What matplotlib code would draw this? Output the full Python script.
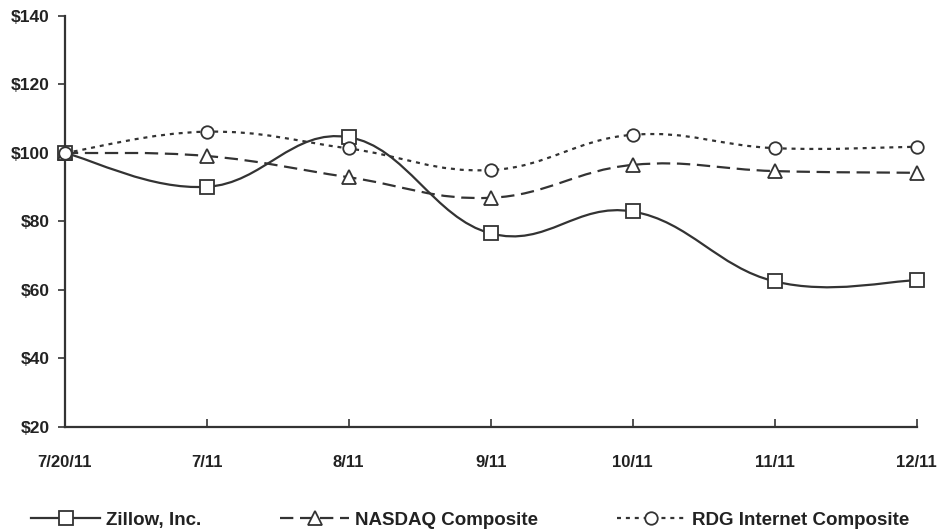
import numpy as np
import matplotlib.pyplot as plt
from matplotlib.path import Path
from matplotlib.patches import PathPatch
from matplotlib.lines import Line2D

plt.rcParams['font.family'] = ['Liberation Sans', 'DejaVu Sans']
plt.rcParams['font.weight'] = 'bold'

# data
periods = ["7/20/11", "7/11", "8/11", "9/11", "10/11", "11/11", "12/11"]
zillow = [100, 90.1, 104.6, 76.5, 82.9, 62.5, 62.8]
nasdaq = [100, 99.1, 92.9, 86.9, 96.5, 94.7, 94.2]
rdg = [100, 106.2, 101.3, 95.0, 105.3, 101.4, 101.8]
y_ticks = [20, 40, 60, 80, 100, 120, 140]

ink = "#333333"


def smooth_path(xs, ys, k=0.2):
    # catmull-rom style curve through the points, as cubic bezier segments
    pts = np.column_stack([xs, ys]).astype(float)
    verts = [pts[0]]
    codes = [Path.MOVETO]
    n = len(pts)
    for i in range(n - 1):
        p0 = pts[max(i - 1, 0)]
        p1 = pts[i]
        p2 = pts[i + 1]
        p3 = pts[min(i + 2, n - 1)]
        verts += [p1 + (p2 - p0) * k, p2 - (p3 - p1) * k, p2]
        codes += [Path.CURVE4] * 3
    return Path(verts, codes)


fig = plt.figure(figsize=(9.4, 5.31), dpi=100)
ax = fig.add_axes([0.069, 0.196, 0.906, 0.774])

x = np.arange(len(periods))
series = [
    ("Zillow, Inc.", zillow, "-", "s", 9.5),
    ("NASDAQ Composite", nasdaq, (0, (6, 3)), "^", 9.5),
    ("RDG Internet Composite", rdg, (0, (1.8, 2.2)), "o", 9),
]

handles = []
for name, vals, ls, mk, ms in series:
    patch = PathPatch(smooth_path(x, vals), facecolor="none", edgecolor=ink,
                      lw=1.6, linestyle=ls, zorder=2)
    ax.add_patch(patch)
    ax.plot(x, vals, linestyle="none", marker=mk, ms=ms, mfc="white",
            mec=ink, mew=1.3, zorder=3, clip_on=False)
    handles.append(Line2D([], [], color=ink, lw=1.6, linestyle=ls, marker=mk,
                          ms=ms, mfc="white", mec=ink, mew=1.3))

ax.set_xlim(0, len(periods) - 1)
ax.set_ylim(20, 140)
ax.set_yticks(y_ticks)
ax.set_yticklabels([f"${v}" for v in y_ticks], fontsize=12.5, fontweight="bold")
ax.set_xticks(x)
ax.set_xticklabels(periods, fontsize=12, fontweight="bold")

for side in ["top", "right"]:
    ax.spines[side].set_visible(False)
for side in ["left", "bottom"]:
    ax.spines[side].set_color(ink)
    ax.spines[side].set_linewidth(1.6)

ax.tick_params(axis="y", direction="out", length=5, width=1.2, colors=ink,
               labelcolor="#222222", pad=6)
ax.tick_params(axis="x", direction="in", length=6, width=1.2, colors=ink,
               labelcolor="#222222", pad=20)

fig.legend(handles, [s[0] for s in series], loc="lower center",
           bbox_to_anchor=(0.5, -0.028), ncol=3, frameon=False,
           handlelength=3.7, handletextpad=0.3, columnspacing=4.2,
           numpoints=1, prop={"size": 13.5, "weight": "bold"},
           labelcolor="#222222")

fig.savefig("out.png", dpi=100)
